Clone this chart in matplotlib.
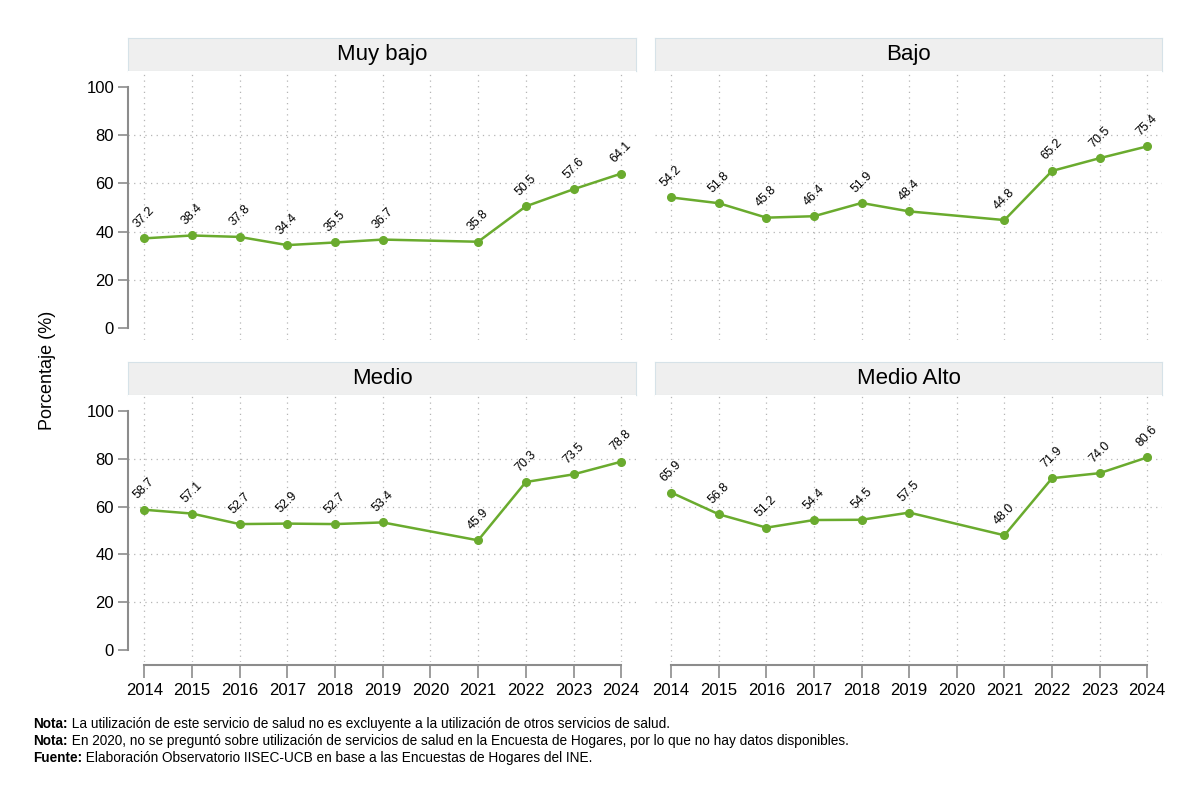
import numpy as np
import matplotlib.pyplot as plt
from matplotlib.patches import Rectangle

# --- DATOS ---
anios = [2014, 2015, 2016, 2017, 2018, 2019, 2021, 2022, 2023, 2024]
paneles = ["Muy bajo", "Bajo", "Medio", "Medio Alto"]
muy_bajo = [37.2, 38.4, 37.8, 34.4, 35.5, 36.7, 35.8, 50.5, 57.6, 64.1]
bajo = [54.2, 51.8, 45.8, 46.4, 51.9, 48.4, 44.8, 65.2, 70.5, 75.4]
medio = [58.7, 57.1, 52.7, 52.9, 52.7, 53.4, 45.9, 70.3, 73.5, 78.8]
medio_alto = [65.9, 56.8, 51.2, 54.4, 54.5, 57.5, 48.0, 71.9, 74.0, 80.6]
series = [muy_bajo, bajo, medio, medio_alto]
ticks_x = list(range(2014, 2025))
ticks_y = [0, 20, 40, 60, 80, 100]

notas = [
    ("Nota:", " La utilización de este servicio de salud no es excluyente a la utilización de otros servicios de salud."),
    ("Nota:", " En 2020, no se preguntó sobre utilización de servicios de salud en la Encuesta de Hogares, por lo que no hay datos disponibles."),
    ("Fuente:", " Elaboración Observatorio IISEC-UCB en base a las Encuestas de Hogares del INE."),
]

VERDE = "#6aab2e"
GRIS = "#8c8c8c"
FUENTE = ["Liberation Sans Narrow", "Liberation Sans", "DejaVu Sans"]
plt.rcParams['font.family'] = FUENTE

W, H = 1200, 801
fig = plt.figure(figsize=(12, 8.01), dpi=100)
fig.patch.set_facecolor("white")


def caja(l, t, r, b):
    return [l / W, 1 - b / H, (r - l) / W, (b - t) / H]


# posiciones en pixeles: (izq, der, tope_caja, fondo_caja, fondo_eje)
posiciones = [
    (128, 636, 38, 71, 340),
    (655, 1162, 38, 71, 340),
    (128, 636, 362, 395, 662),
    (655, 1162, 362, 395, 662),
]

for i, (nombre, valores) in enumerate(zip(paneles, series)):
    l, r, st, sb, ab = posiciones[i]
    izquierda = (i % 2 == 0)
    abajo = (i >= 2)

    # franja del titulo
    tit = fig.add_axes(caja(l, st, r, sb))
    tit.set_xticks([]); tit.set_yticks([])
    tit.set_facecolor("#efefef")
    for s in tit.spines.values():
        s.set_color("#d6e2e8")
    tit.text(0.5, 0.5, nombre, ha="center", va="center", fontsize=16, transform=tit.transAxes)

    ax = fig.add_axes(caja(l, sb, r, ab))
    ax.set_xlim(2013.66, 2024.31)
    ax.set_ylim(-5.0, 106.7)
    for s in ["top", "right"]:
        ax.spines[s].set_visible(False)

    # grilla punteada
    for yv in [20, 40, 60, 80]:
        ax.axhline(yv, color="#b5b5b5", lw=0.9, ls=(0, (1, 3.5)), zorder=0)
    for xv in ticks_x:
        ax.axvline(xv, color="#b5b5b5", lw=0.9, ls=(0, (1, 3.5)), zorder=0)

    if izquierda:
        ax.spines["left"].set_bounds(0, 100)
        ax.spines["left"].set_color(GRIS)
        ax.spines["left"].set_linewidth(1.5)
        ax.set_yticks(ticks_y)
        ax.tick_params(axis="y", length=7, width=1.2, color=GRIS, labelsize=12, pad=3)
    else:
        ax.spines["left"].set_visible(False)
        ax.set_yticks([])

    if abajo:
        ax.spines["bottom"].set_bounds(2014, 2024)
        ax.spines["bottom"].set_color(GRIS)
        ax.spines["bottom"].set_linewidth(1.5)
        ax.spines["bottom"].set_position(("outward", 2))
        ax.set_xticks(ticks_x)
        ax.tick_params(axis="x", length=9, width=1.2, color=GRIS, labelsize=12, pad=4)
    else:
        ax.spines["bottom"].set_visible(False)
        ax.set_xticks([])

    ax.plot(anios, valores, color=VERDE, lw=1.8, marker="o", ms=5.5, zorder=3)
    for xv, yv in zip(anios, valores):
        ax.annotate(f"{yv:.1f}", (xv, yv), xytext=(0, 6), textcoords="offset points",
                    ha="center", va="bottom", rotation=45, fontsize=9)

fig.text(48 / W, 1 - 370 / H, "Porcentaje (%)", rotation=90, ha="center", va="center", fontsize=13)

renderer = fig.canvas.get_renderer()
for k, (negrita, resto) in enumerate(notas):
    y = 1 - (724 + 17 * k) / H
    t = fig.text(33 / W, y, negrita, fontsize=9.8, fontweight="bold", va="center")
    ancho = t.get_window_extent(renderer=renderer).width
    fig.text((33 + ancho) / W, y, resto, fontsize=9.8, va="center")

plt.savefig("out.png", dpi=100, facecolor="white")
plt.close()
